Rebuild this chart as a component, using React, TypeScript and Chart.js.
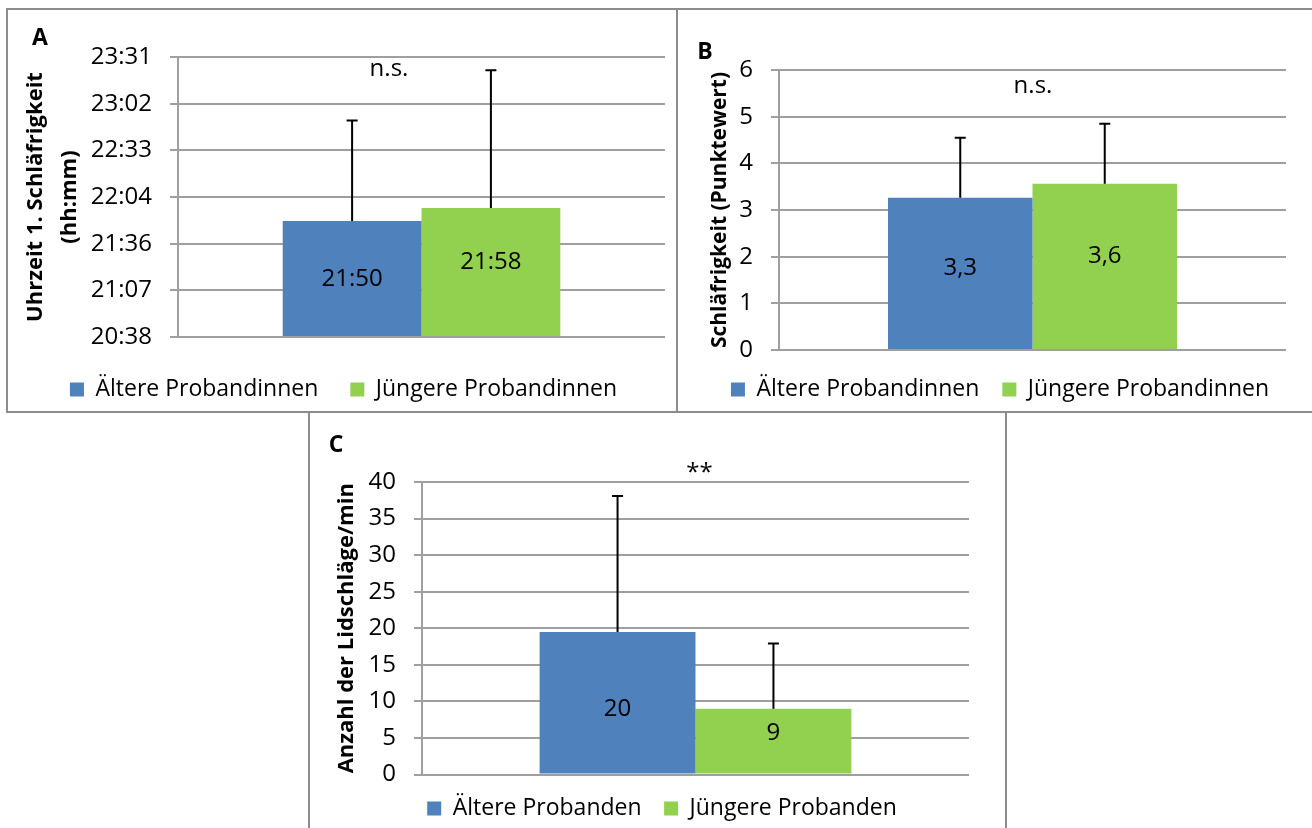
import React, { useEffect, useRef } from "react";
import { Chart, registerables } from "chart.js";

Chart.register(...registerables);

// ---------- data ----------
const CATEGORY = [""];
const A_SERIES = ["Ältere Probandinnen", "Jüngere Probandinnen"];
const B_SERIES = ["Ältere Probandinnen", "Jüngere Probandinnen"];
const C_SERIES = ["Ältere Probanden", "Jüngere Probanden"];

// Panel A: clock time of first sleepiness, in minutes after midnight
const A_MEAN_MIN = [1310, 1318]; // 21:50, 21:58
const A_SD_MIN = [62, 85];
const A_TICK_VALUES = [1238.4, 1267.2, 1296, 1324.8, 1353.6, 1382.4, 1411.2];
const A_TICK_LABELS = ["20:38", "21:07", "21:36", "22:04", "22:33", "23:02", "23:31"];

// Panel B: sleepiness score
const B_MEAN = [3.26, 3.56];
const B_SD = [1.29, 1.29];
const B_TICK_VALUES = [0, 1, 2, 3, 4, 5, 6];
const B_TICK_LABELS = ["0", "1", "2", "3", "4", "5", "6"];

// Panel C: blinks per minute
const C_MEAN = [19.5, 9.0];
const C_SD = [18.6, 8.9];
const C_TICK_VALUES = [0, 5, 10, 15, 20, 25, 30, 35, 40];
const C_TICK_LABELS = ["0", "5", "10", "15", "20", "25", "30", "35", "40"];

// ---------- style ----------
const FONT = "'Open Sans', 'DejaVu Sans', sans-serif";
const COLORS = ["#4F81BD", "#92D050"];
const GRID = "#9f9f9f";
const BORDER = "#8c8c8c";
const TICK_SIZE = 24;
const LEGEND_SIZE = 23;
const LABEL_SIZE = 24;

const fmtTime = (m: number) => {
  const h = Math.floor(m / 60);
  const mm = Math.floor(m % 60);
  return `${h}:${mm < 10 ? "0" : ""}${mm}`;
};
const fmtComma = (v: number) => (Math.round(v * 10) / 10).toFixed(1).replace(".", ",");
const fmtInt = (v: number) => String(Math.round(v));

type Spec = {
  id: string;
  canvas: { left: number; top: number; width: number; height: number };
  series: string[];
  values: number[];
  sds: number[];
  valueLabels: string[];
  tickValues: number[];
  tickLabels: string[];
  yTitle: string | string[];
  titleSize: number;
  titleLineHeight: number;
  titlePadTop: number;
  letter: string;
  letterPos: [number, number];
  note: string;
  noteOffset: [number, number];
  labelNudge: number[];
  legendPad: number;
  yWidth: number;
  yRightWidth: number;
  xHeight: number;
  padTop: number;
  padBottom: number;
};

const PANELS: Spec[] = [
  {
    id: "A",
    canvas: { left: 8, top: 10, width: 671, height: 401 },
    series: A_SERIES,
    values: A_MEAN_MIN,
    sds: A_SD_MIN,
    valueLabels: A_MEAN_MIN.map(fmtTime),
    tickValues: A_TICK_VALUES,
    tickLabels: A_TICK_LABELS,
    yTitle: ["Uhrzeit 1. Schläfrigkeit", "(hh:mm)"],
    titleSize: 22,
    titleLineHeight: 1.55,
    titlePadTop: 11,
    letter: "A",
    letterPos: [32, 35],
    note: "n.s.",
    noteOffset: [-32.5, 19],
    labelNudge: [-1, -12.5],
    legendPad: 32,
    yWidth: 170,
    yRightWidth: 14,
    xHeight: 9,
    padTop: 47,
    padBottom: 0,
  },
  {
    id: "B",
    canvas: { left: 678, top: 10, width: 644, height: 401 },
    series: B_SERIES,
    values: B_MEAN,
    sds: B_SD,
    valueLabels: B_MEAN.map(fmtComma),
    tickValues: B_TICK_VALUES,
    tickLabels: B_TICK_LABELS,
    yTitle: "Schläfrigkeit (Punktewert)",
    titleSize: 21,
    titleLineHeight: 1.2,
    titlePadTop: 29,
    letter: "B",
    letterPos: [27, 49],
    note: "n.s.",
    noteOffset: [0.5, 23],
    labelNudge: [-7, -12.5],
    legendPad: 23,
    yWidth: 101,
    yRightWidth: 36,
    xHeight: 5,
    padTop: 60,
    padBottom: 0,
  },
  {
    id: "C",
    canvas: { left: 310, top: 414, width: 704, height: 416 },
    series: C_SERIES,
    values: C_MEAN,
    sds: C_SD,
    valueLabels: C_MEAN.map(fmtInt),
    tickValues: C_TICK_VALUES,
    tickLabels: C_TICK_LABELS,
    yTitle: "Anzahl der Lidschläge/min",
    titleSize: 22,
    titleLineHeight: 1.2,
    titlePadTop: 24,
    letter: "C",
    letterPos: [26, 38],
    note: "**",
    noteOffset: [4, -2],
    labelNudge: [4.5, -10],
    legendPad: 22.5,
    yWidth: 112,
    yRightWidth: 45,
    xHeight: 0,
    padTop: 68,
    padBottom: 0,
  },
];

function PanelChart({ spec }: { spec: Spec }) {
  const ref = useRef<HTMLCanvasElement | null>(null);

  useEffect(() => {
    const canvas = ref.current;
    if (!canvas) return;

    const overlay = {
      id: "overlay" + spec.id,
      afterDatasetsDraw(chart: any) {
        const ctx = chart.ctx as CanvasRenderingContext2D;
        const yScale = chart.scales.y;
        const area = chart.chartArea;
        ctx.save();
        // error bars (plus direction only)
        spec.values.forEach((v, i) => {
          const el = chart.getDatasetMeta(i).data[0];
          const top = yScale.getPixelForValue(v + spec.sds[i]);
          ctx.strokeStyle = "#000";
          ctx.lineWidth = 2;
          ctx.beginPath();
          ctx.moveTo(el.x, el.y);
          ctx.lineTo(el.x, top);
          ctx.moveTo(el.x - 5.5, top);
          ctx.lineTo(el.x + 5.5, top);
          ctx.stroke();
        });
        // value labels
        ctx.fillStyle = "#000";
        ctx.textAlign = "center";
        ctx.textBaseline = "alphabetic";
        ctx.font = `${LABEL_SIZE}px ${FONT}`;
        spec.values.forEach((_v, i) => {
          const el = chart.getDatasetMeta(i).data[0];
          const mid = (el.y + area.bottom) / 2;
          ctx.fillText(spec.valueLabels[i], el.x, mid + spec.labelNudge[i] + 8.5);
        });
        // significance note
        ctx.fillText(
          spec.note,
          (area.left + area.right) / 2 + spec.noteOffset[0],
          area.top + spec.noteOffset[1]
        );
        // panel letter
        ctx.font = `bold 23px ${FONT}`;
        ctx.fillText(spec.letter, spec.letterPos[0], spec.letterPos[1]);
        ctx.restore();
      },
    };

    const chart = new Chart(canvas, {
      type: "bar",
      data: {
        labels: CATEGORY,
        datasets: spec.series.map((name, i) => ({
          label: name,
          data: [spec.values[i]],
          backgroundColor: COLORS[i],
          borderWidth: 0,
          base: spec.tickValues[0],
          barPercentage: 1,
          categoryPercentage: 0.57,
        })),
      },
      options: {
        responsive: false,
        animation: false,
        devicePixelRatio: 1,
        layout: { padding: { top: spec.padTop, right: 0, bottom: spec.padBottom, left: 0 } },
        plugins: {
          legend: {
            position: "bottom",
            labels: {
              boxWidth: 14,
              boxHeight: 14,
              padding: spec.legendPad,
              color: "#000",
              font: { family: FONT, size: LEGEND_SIZE },
            },
          },
          tooltip: { enabled: false },
          title: { display: false },
        },
        scales: {
          x: {
            display: true,
            grid: { display: false },
            border: { display: false },
            ticks: { display: false },
            afterFit: (s: any) => {
              s.height = spec.xHeight;
            },
          },
          y: {
            position: "left",
            min: spec.tickValues[0],
            max: spec.tickValues[spec.tickValues.length - 1],
            afterBuildTicks: (s: any) => {
              s.ticks = spec.tickValues.map((v) => ({ value: v }));
            },
            ticks: {
              color: "#000",
              padding: 18,
              autoSkip: false,
              font: { family: FONT, size: TICK_SIZE },
              callback: (_v: any, i: number) => spec.tickLabels[i],
            },
            grid: { color: GRID, lineWidth: 2, drawTicks: true, tickLength: 8 },
            border: { display: true, color: GRID, width: 2 },
            title: {
              display: true,
              text: spec.yTitle,
              color: "#000",
              font: {
                family: FONT,
                size: spec.titleSize,
                weight: "bold",
                lineHeight: spec.titleLineHeight,
              },
              padding: { top: spec.titlePadTop, bottom: 0 },
            },
            afterFit: (s: any) => {
              s.width = spec.yWidth;
            },
          },
          yR: {
            position: "right",
            display: true,
            grid: { display: false },
            border: { display: false },
            ticks: { display: false },
            afterFit: (s: any) => {
              s.width = spec.yRightWidth;
            },
          },
        },
      } as any,
      plugins: [overlay as any],
    });

    return () => chart.destroy();
  }, [spec]);

  const c = spec.canvas;
  return (
    <canvas
      ref={ref}
      width={c.width}
      height={c.height}
      style={{
        position: "absolute",
        left: c.left,
        top: c.top,
        width: c.width,
        height: c.height,
        display: "block",
      }}
    />
  );
}

const boxStyle = (left: number, top: number, width: number, height: number): React.CSSProperties => ({
  position: "absolute",
  left,
  top,
  width,
  height,
  border: `2px solid ${BORDER}`,
  boxSizing: "border-box",
});

export default function App() {
  return (
    <div
      style={{
        position: "absolute",
        left: 0,
        top: 0,
        width: 1312,
        height: 828,
        overflow: "hidden",
        background: "#fff",
      }}
    >
      <div style={boxStyle(6, 8, 672, 405)} />
      <div style={boxStyle(676, 8, 640, 405)} />
      <div style={boxStyle(308, 411, 699, 420)} />
      {PANELS.map((p) => (
        <PanelChart key={p.id} spec={p} />
      ))}
    </div>
  );
}
